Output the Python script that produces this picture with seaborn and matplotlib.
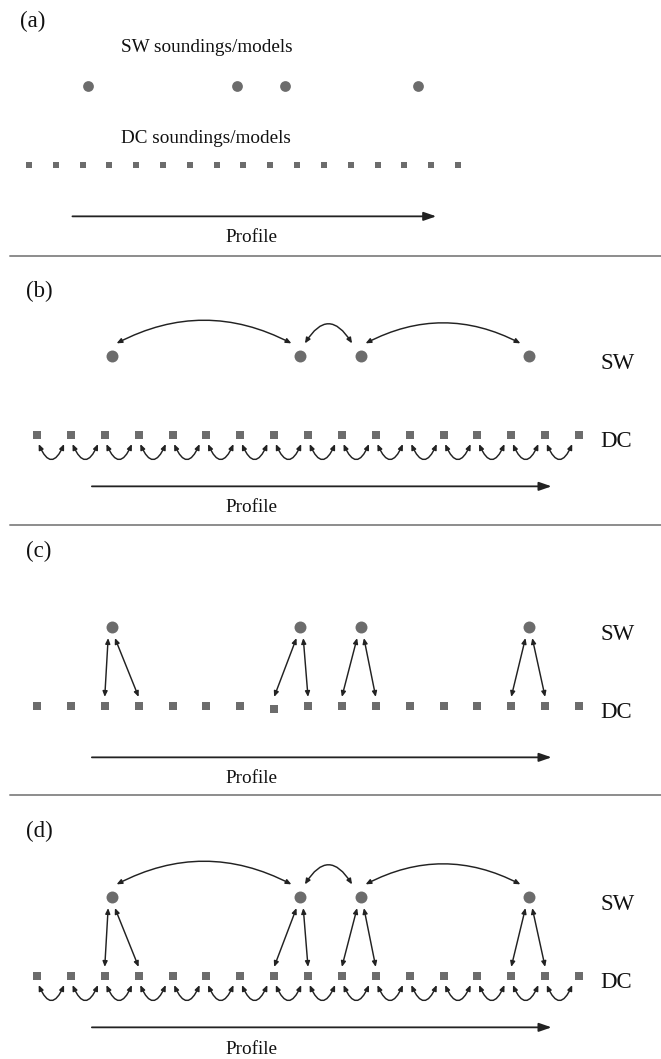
import numpy as np
import pandas as pd
import matplotlib
matplotlib.use("Agg")
import matplotlib.pyplot as plt
import seaborn as sns
from matplotlib.lines import Line2D

# ---------------- data ----------------
dc_stations = [0, 1, 2, 3, 4, 5, 6, 7, 8, 9, 10, 11, 12, 13, 14, 15, 16]
sw_stations = [2.2, 7.76, 9.55, 14.52]
# SW sounding -> DC soundings it is linked to (panels c, d)
sw_dc_links = [(0, 2), (0, 3), (1, 7), (1, 8), (2, 9), (2, 10), (3, 14), (3, 15)]
# small vertical jitter of DC stations visible in panel (c)
dc_offset_c = [0, 0, 0, 0, 0, 0, 0, -0.04, 0, 0, 0, 0, 0, 0, 0, 0, 0]
panel_labels = ["(a)", "(b)", "(c)", "(d)"]
profile_start, profile_end = 1.62, 15.19

# ---------------- style ----------------
sns.set_theme(style="white")
plt.rcParams['font.family'] = ['Liberation Serif', 'DejaVu Serif']

W, H = 661, 1059
U = 79.0  # pixels per row unit
GRAY = "#6c6c6c"
LINE = "#222222"

fig = plt.figure(figsize=(W / 100, H / 100), dpi=100)

# panel layout: top, bottom, DC-row pixel, x pixel of station 0, station step
layout = [
    (0, 256, 165, 29, 26.81),
    (256, 525, 435, 37, 33.875),
    (525, 795, 706, 37, 33.875),
    (795, 1059, 976, 37, 33.875),
]


def ftext(px, py, s, size, ha="left"):
    fig.text(px / W, 1 - py / H, s, fontsize=size, ha=ha, va="baseline", color="#111111")


def arrow(ax, p0, p1, style, rad=0.0, lw=1.05, ms=10):
    ax.annotate("", xy=p1, xytext=p0,
                arrowprops=dict(arrowstyle=style, connectionstyle=f"arc3,rad={rad}",
                                shrinkA=0, shrinkB=0, lw=lw, color=LINE,
                                mutation_scale=ms))


small_head = "<|-|>,head_length=0.32,head_width=0.14"
for k, (top, bot, yD, px0, step) in enumerate(layout):
    ax = fig.add_axes([0, 1 - bot / H, 1, (bot - top) / H])
    dc_y = dc_offset_c if k == 2 else [0] * len(dc_stations)
    dc_df = pd.DataFrame({"x": dc_stations, "y": dc_y})
    sw_df = pd.DataFrame({"x": sw_stations, "y": [1] * len(sw_stations)})
    sq = 24 if k == 0 else 32
    ci = 60 if k == 0 else 74
    sns.scatterplot(data=dc_df, x="x", y="y", marker="s", s=sq, color=GRAY,
                    linewidth=0, ax=ax, legend=False, zorder=3)
    sns.scatterplot(data=sw_df, x="x", y="y", marker="o", s=ci, color=GRAY,
                    linewidth=0, ax=ax, legend=False, zorder=3)
    ax.set_xlim(-px0 / step, (W - px0) / step)
    ax.set_ylim((yD - bot) / U, (yD - top) / U)
    ax.axis("off")

    # profile arrow
    arrow(ax, (profile_start, -0.65), (profile_end, -0.65),
          "-|>,head_length=0.75,head_width=0.26", lw=1.3, ms=10)

    # lateral constraints
    if k in (1, 3):
        for i in range(len(sw_stations) - 1):
            x0, x1 = sw_stations[i], sw_stations[i + 1]
            rad = -0.8 if (x1 - x0) < 3 else -0.26
            arrow(ax, (x0 + 0.15, 1.16), (x1 - 0.25, 1.16), small_head, rad=rad)
        for i in range(len(dc_stations) - 1):
            x0, x1 = dc_stations[i], dc_stations[i + 1]
            arrow(ax, (x0 + 0.05, -0.115), (x1 - 0.2, -0.115), small_head, rad=1.15)

    # SW <-> DC links
    if k in (2, 3):
        for si, di in sw_dc_links:
            xs, xd = sw_stations[si], dc_stations[di]
            xt = xs - 0.1 if xd < xs else xs + 0.1
            arrow(ax, (xt, 1 - 0.14), (xd, 0.115), small_head)

# separators
for py in (256, 525, 795):
    fig.add_artist(Line2D([10 / W, 1], [1 - py / H] * 2, color="#8c8c8c", lw=1.4))

# texts
label_pos = [(20, 27), (26, 297), (26, 557), (26, 837)]
for (lx, ly), lab in zip(label_pos, panel_labels):
    ftext(lx, ly, lab, 16.5)

ftext(207, 52, "SW soundings/models", 13.8, ha="center")
ftext(206, 143, "DC soundings/models", 13.8, ha="center")
for py in (242, 512, 783, 1054):
    ftext(251, py, "Profile", 13.8, ha="center")
for sw_b, dc_b in ((369, 447), (640, 718), (910, 988)):
    ftext(600, sw_b, "SW", 16.5)
    ftext(600, dc_b, "DC", 16.5)

fig.savefig("out.png", dpi=100)
